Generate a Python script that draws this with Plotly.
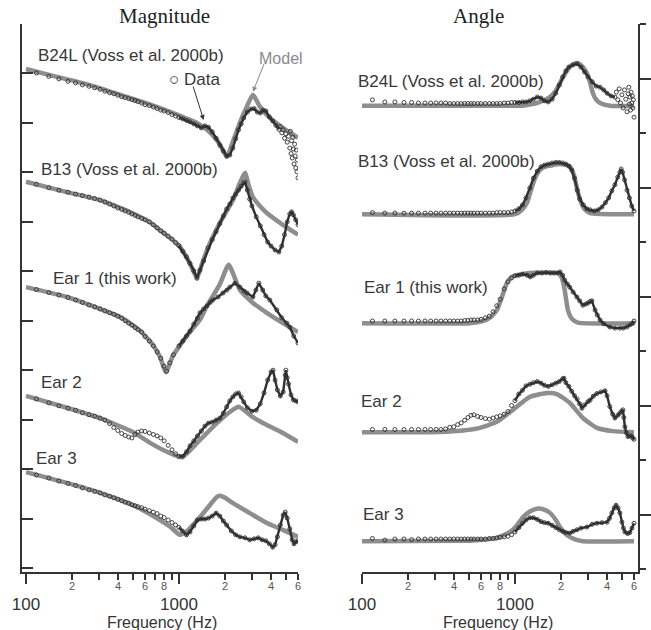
import math
import plotly.graph_objects as go

# ---------------- shared frequency grid of the sparse low-frequency data circles (Hz)
LOW_F = [117, 141, 164, 188, 211, 234, 258, 281, 305, 328, 352, 375, 398, 422, 445, 469, 492, 516, 539]

# ================= MAGNITUDE panel (arbitrary dB-like units, 10 per tick, curves offset) =========
# --- B24L
b24l_mag_model_f = [100, 150, 200, 300, 450, 650, 900, 1100, 1311, 1524, 1770, 1900, 2058, 2250, 2500, 2750, 3045, 3381, 3933, 4783, 6000]
b24l_mag_model_v = [100.9, 99.5, 98.6, 97.1, 95.3, 93.7, 92.1, 91.0, 90.0, 88.6, 86.5, 85.0, 83.1, 86.2, 90.0, 93.0, 95.7, 93.3, 91.0, 89.0, 87.0]
b24l_mag_low_v = [100.1, 99.4, 98.9, 98.4, 98.1, 97.7, 97.4, 97.1, 96.8, 96.4, 96.1, 95.9, 95.6, 95.3, 95.1, 94.9, 94.7, 94.5, 94.3]
b24l_mag_hi_f = [570, 600, 640, 680, 720, 760, 800, 850, 900, 950, 1000, 1060, 1120, 1180, 1250, 1320, 1400, 1480, 1560, 1650, 1750, 1850, 1950, 2050, 2150, 2250, 2350, 2450, 2550, 2650, 2800, 2950, 3100, 3250, 3400, 3550, 3700, 3900, 4100, 4300, 4500]
b24l_mag_hi_v = [94.0, 93.7, 93.5, 93.2, 92.9, 92.6, 92.4, 92.1, 91.7, 91.4, 91.1, 90.8, 90.5, 90.2, 89.8, 89.4, 89.0, 89.4, 89.1, 88.2, 86.9, 85.5, 84.3, 83.3, 83.5, 84.9, 86.8, 88.6, 89.8, 91.0, 92.2, 92.8, 92.9, 92.2, 92.0, 92.6, 92.4, 91.2, 90.4, 89.5, 88.7]
b24l_mag_scat_f = [4600, 4700, 4800, 4900, 5000, 5100, 5200, 5300, 5350, 5400, 5450, 5500, 5550, 5600, 5650, 5700, 5750, 5800, 5850, 5900, 5950, 6000]
b24l_mag_scat_v = [89.2, 88.0, 88.6, 86.9, 87.8, 86.1, 87.3, 84.9, 88.3, 83.8, 86.4, 82.9, 87.1, 84.7, 81.7, 85.7, 83.3, 80.9, 84.5, 80.1, 82.5, 78.9]

# --- B13
b13_mag_model_f = [100, 185, 305, 478, 647, 751, 912, 1015, 1127, 1216, 1311, 1415, 1524, 1853, 2255, 2505, 2701, 2865, 3045, 3381, 3754, 4783, 6000]
b13_mag_model_v = [78.1, 76.0, 74.4, 72.0, 69.9, 68.3, 66.3, 64.9, 62.7, 60.7, 58.6, 61.5, 64.3, 69.8, 74.4, 77.9, 79.9, 77.2, 75.0, 73.2, 71.8, 69.4, 67.4]
b13_mag_low_v = [77.6, 76.9, 76.4, 76.0, 75.6, 75.3, 75.0, 74.7, 74.4, 74.0, 73.6, 73.2, 72.8, 72.5, 72.2, 71.9, 71.6, 71.3, 71.0]
b13_mag_hi_f = [570, 600, 640, 680, 720, 760, 800, 850, 900, 950, 1000, 1060, 1120, 1180, 1250, 1311, 1370, 1450, 1550, 1650, 1750, 1850, 1950, 2050, 2150, 2250, 2350, 2450, 2550, 2650, 2700, 2800, 2900, 3000, 3200, 3400, 3600, 3800, 4000, 4250, 4500, 4700, 4900, 5100, 5300, 5450, 5600, 5800, 6000]
b13_mag_hi_v = [70.7, 70.4, 70.0, 69.4, 68.8, 68.2, 67.7, 67.1, 66.5, 65.8, 65.2, 64.0, 62.9, 61.6, 60.1, 58.6, 60.2, 62.1, 64.7, 66.4, 68.0, 69.6, 71.2, 72.6, 73.6, 74.8, 75.6, 76.4, 77.2, 77.9, 78.1, 76.4, 74.6, 73.2, 71.0, 69.2, 67.4, 65.9, 65.1, 64.3, 63.9, 65.1, 67.4, 70.0, 71.6, 72.0, 71.4, 70.4, 69.4]

# --- Ear 1
ear1_mag_model_f = [100, 185, 305, 411, 556, 677, 751, 822, 912, 1015, 1127, 1372, 1524, 1853, 2113, 2505, 3045, 3754, 4783, 6000]
ear1_mag_model_v = [56.8, 54.8, 52.4, 50.8, 48.0, 45.1, 42.7, 39.6, 42.9, 45.0, 47.0, 50.2, 53.0, 57.4, 61.3, 56.2, 53.6, 51.6, 49.5, 47.7]
ear1_mag_low_v = [56.3, 55.7, 55.2, 54.7, 54.2, 53.7, 53.2, 52.8, 52.4, 52.0, 51.6, 51.3, 50.9, 50.5, 50.0, 49.5, 49.1, 48.6, 48.2]
ear1_mag_hi_f = [570, 600, 640, 680, 720, 760, 800, 830, 870, 920, 1000, 1060, 1120, 1180, 1250, 1320, 1372, 1450, 1524, 1600, 1666, 1800, 1940, 2058, 2152, 2324, 2505, 2665, 2787, 3045, 3182, 3327, 3530, 3698, 3927, 4360, 4697, 5070, 5305, 5630, 6000]
ear1_mag_hi_v = [47.7, 46.8, 45.9, 44.9, 43.7, 42.4, 40.8, 39.8, 41.5, 43.1, 44.9, 45.9, 46.9, 47.9, 49.3, 50.5, 51.6, 52.4, 53.0, 53.7, 54.2, 54.8, 55.6, 56.2, 56.8, 57.6, 56.8, 56.0, 55.6, 54.8, 56.2, 57.6, 56.2, 55.0, 54.2, 52.2, 50.6, 49.5, 48.7, 46.9, 45.5]

# --- Ear 2
ear2_mag_model_f = [100, 185, 305, 500, 647, 835, 1048, 1372, 1770, 2255, 2457, 3045, 3754, 4783, 6000]
ear2_mag_model_v = [34.8, 32.4, 30.3, 27.5, 25.3, 23.5, 22.4, 25.9, 29.3, 32.0, 32.6, 30.5, 28.9, 27.3, 25.5]
ear2_mag_low_v = [34.2, 33.4, 32.8, 32.3, 31.9, 31.4, 31.0, 30.7, 30.3, 29.9, 29.2, 28.4, 27.8, 27.2, 26.8, 26.5, 26.3, 27.0, 27.5]
ear2_mag_hi_f = [570, 600, 640, 680, 720, 760, 800, 850, 900, 950, 1000, 1060, 1120, 1180, 1250, 1320, 1400, 1480, 1560, 1650, 1750, 1850, 1950, 2050, 2150, 2250, 2350, 2450, 2550, 2650, 2800, 3000, 3200, 3400, 3600, 3800, 4000, 4120, 4250, 4400, 4600, 4800, 4950, 5000, 5100, 5200, 5400, 5600, 5800, 6000]
ear2_mag_hi_v = [27.7, 27.6, 27.3, 27.0, 26.7, 26.3, 25.7, 24.8, 23.9, 23.1, 22.6, 22.6, 23.5, 24.7, 25.7, 26.7, 27.7, 28.7, 29.3, 29.5, 29.9, 30.3, 31.3, 32.6, 33.8, 34.6, 35.2, 35.4, 34.6, 33.6, 32.4, 31.7, 31.9, 33.2, 35.4, 38.0, 39.6, 40.0, 38.0, 36.0, 34.8, 35.6, 39.0, 40.0, 38.5, 37.2, 35.0, 34.0, 33.8, 33.6]

# --- Ear 3
ear3_mag_model_f = [100, 185, 305, 500, 751, 880, 1015, 1150, 1372, 1600, 1770, 1853, 2000, 2255, 2907, 3754, 4783, 6000]
ear3_mag_model_v = [19.4, 17.2, 15.2, 12.7, 9.7, 8.3, 6.7, 7.7, 10.3, 12.8, 14.4, 14.6, 14.2, 13.1, 11.1, 9.1, 7.7, 6.3]
ear3_mag_low_v = [18.8, 18.2, 17.6, 17.1, 16.7, 16.2, 15.8, 15.5, 15.2, 14.8, 14.5, 14.2, 13.9, 13.6, 13.3, 13.1, 12.8, 12.6, 12.4]
ear3_mag_hi_f = [570, 600, 640, 680, 720, 760, 800, 850, 900, 950, 1000, 1050, 1120, 1180, 1250, 1320, 1400, 1480, 1560, 1650, 1750, 1850, 1950, 2050, 2200, 2350, 2500, 2700, 2900, 3100, 3300, 3500, 3700, 3900, 4100, 4250, 4400, 4600, 4800, 4950, 5100, 5300, 5500, 5650, 5800, 6000]
ear3_mag_hi_v = [12.2, 11.9, 11.6, 11.3, 11.0, 10.5, 10.2, 9.7, 9.2, 8.7, 8.2, 7.5, 6.7, 7.3, 8.5, 9.7, 9.9, 9.9, 10.1, 10.5, 11.1, 10.5, 9.5, 8.7, 7.5, 6.7, 6.3, 6.1, 5.7, 5.9, 6.1, 5.7, 5.5, 4.9, 4.2, 4.7, 6.3, 8.7, 10.7, 11.3, 10.1, 7.9, 5.7, 4.9, 5.3, 5.5]

# ================= ANGLE panel (arbitrary degree-like units, 10 per tick, curves offset) =========
b24l_ang_model_f = [100, 1000, 1127, 1250, 1392, 1550, 1693, 1850, 1968, 2120, 2279, 2430, 2581, 2760, 2951, 3100, 3233, 3400, 3603, 4170, 6000]
b24l_ang_model_v = [85.0, 85.0, 85.0, 85.2, 85.5, 86.0, 86.6, 87.8, 89.2, 90.8, 92.1, 92.7, 92.8, 92.2, 91.0, 89.2, 87.3, 86.1, 85.5, 85.0, 85.0]
b24l_ang_low_v = [86.1, 85.7, 85.7, 85.6, 85.6, 85.5, 85.5, 85.5, 85.5, 85.5, 85.5, 85.4, 85.4, 85.4, 85.4, 85.4, 85.4, 85.4, 85.4]
b24l_ang_hi_f = [570, 600, 640, 680, 720, 760, 800, 850, 900, 950, 1000, 1060, 1120, 1180, 1250, 1320, 1400, 1480, 1560, 1650, 1750, 1850, 1950, 2050, 2150, 2250, 2400, 2550, 2700, 2850, 3000, 3200, 3400, 3600, 3800, 4000, 4250, 4500]
b24l_ang_hi_v = [85.4, 85.4, 85.4, 85.4, 85.4, 85.4, 85.4, 85.5, 85.5, 85.6, 85.6, 85.6, 85.7, 85.7, 85.9, 86.2, 86.6, 86.4, 85.9, 85.7, 86.2, 87.3, 88.8, 90.3, 91.4, 92.1, 92.5, 92.7, 92.1, 91.2, 90.3, 89.4, 88.6, 88.4, 87.9, 87.3, 86.8, 86.6]
b24l_ang_scat_f = [4600, 4700, 4800, 4900, 5000, 5100, 5200, 5300, 5400, 5500, 5550, 5600, 5650, 5700, 5750, 5800, 5850, 5900, 5950, 6000]
b24l_ang_scat_v = [87.5, 86.1, 88.1, 85.5, 87.0, 84.6, 87.9, 86.2, 83.9, 87.2, 88.4, 85.3, 86.6, 84.2, 87.5, 85.5, 86.8, 84.6, 86.1, 82.9]

b13_ang_model_f = [100, 1000, 1111, 1198, 1271, 1352, 1452, 1618, 1968, 2279, 2430, 2540, 2665, 2842, 3098, 6000]
b13_ang_model_v = [65.1, 65.1, 65.9, 67.2, 69.5, 71.7, 73.2, 73.9, 74.3, 73.9, 72.3, 69.9, 67.7, 66.1, 65.3, 65.1]
b13_ang_low_v = [65.4, 65.3, 65.3, 65.3, 65.3, 65.3, 65.3, 65.3, 65.3, 65.3, 65.3, 65.3, 65.3, 65.3, 65.3, 65.3, 65.3, 65.3, 65.3]
b13_ang_hi_f = [570, 600, 640, 680, 720, 760, 800, 850, 900, 950, 1000, 1060, 1120, 1180, 1250, 1320, 1400, 1480, 1560, 1650, 1750, 1850, 1950, 2050, 2150, 2250, 2350, 2450, 2550, 2650, 2800, 2950, 3100, 3300, 3500, 3700, 3900, 4100, 4300, 4500, 4700, 4850, 4950, 5050, 5200, 5400, 5600, 5800, 6000]
b13_ang_hi_v = [65.3, 65.3, 65.3, 65.3, 65.3, 65.4, 65.4, 65.4, 65.4, 65.5, 65.7, 66.1, 66.8, 68.1, 69.9, 71.7, 73.0, 73.8, 74.1, 74.3, 74.5, 74.6, 74.6, 74.5, 74.3, 73.9, 73.2, 71.7, 69.5, 67.9, 66.8, 66.1, 65.9, 65.7, 65.9, 66.4, 67.2, 68.1, 69.4, 70.5, 71.9, 72.8, 73.4, 72.8, 71.4, 69.5, 68.1, 66.6, 65.7]

ear1_ang_model_f = [100, 508, 616, 686, 762, 822, 886, 955, 1111, 1452, 1916, 2027, 2113, 2220, 2356, 2581, 6000]
ear1_ang_model_v = [45.1, 45.1, 45.5, 46.1, 47.5, 49.9, 52.5, 53.6, 54.1, 54.4, 54.3, 53.4, 51.2, 47.5, 45.9, 45.2, 45.1]
ear1_ang_low_v = [45.5, 45.5, 45.5, 45.5, 45.5, 45.5, 45.5, 45.5, 45.5, 45.5, 45.5, 45.5, 45.5, 45.5, 45.5, 45.6, 45.6, 45.7, 45.7]
ear1_ang_hi_f = [570, 600, 640, 680, 720, 760, 800, 850, 900, 950, 1000, 1060, 1120, 1200, 1260, 1320, 1400, 1500, 1600, 1700, 1800, 1900, 1970, 2050, 2113, 2200, 2279, 2400, 2540, 2650, 2780, 2900, 3000, 3100, 3182, 3340, 3450, 3603, 3800, 4170, 4500, 4850, 5100, 5384, 5650, 5900, 6000]
ear1_ang_hi_v = [45.7, 45.8, 46.1, 46.4, 47.2, 48.3, 49.5, 51.4, 52.7, 53.4, 53.8, 53.9, 54.1, 53.9, 53.6, 53.9, 54.3, 54.3, 54.4, 54.3, 54.3, 54.3, 54.5, 53.9, 53.0, 52.3, 51.7, 50.8, 49.9, 49.2, 48.4, 48.6, 48.8, 49.1, 49.2, 47.5, 46.6, 45.7, 45.0, 44.4, 44.2, 44.2, 44.2, 44.4, 44.8, 45.1, 45.5]

ear2_ang_model_f = [100, 278, 360, 458, 590, 762, 970, 1254, 1618, 1880, 2279, 2780, 3430, 4361, 6000]
ear2_ang_model_v = [25.1, 25.1, 25.2, 25.4, 25.9, 27.0, 29.2, 31.6, 32.3, 32.1, 30.5, 27.7, 25.9, 25.3, 25.1]
ear2_ang_low_v = [25.6, 25.6, 25.6, 25.6, 25.6, 25.6, 25.6, 25.6, 25.6, 25.6, 25.7, 26.0, 26.1, 26.5, 26.8, 27.3, 27.8, 28.2, 28.3]
ear2_ang_hi_f = [570, 600, 640, 680, 720, 760, 800, 850, 900, 950, 1000, 1060, 1120, 1180, 1250, 1320, 1400, 1480, 1560, 1650, 1750, 1850, 1950, 2050, 2090, 2150, 2250, 2350, 2450, 2550, 2650, 2740, 2850, 3000, 3100, 3250, 3430, 3650, 3880, 4000, 4170, 4350, 4500, 4700, 4850, 5000, 5080, 5150, 5230, 5350, 5480, 5650, 5800, 5900, 6000]
ear2_ang_hi_v = [28.0, 27.8, 27.6, 27.5, 27.7, 27.9, 28.1, 28.4, 28.9, 30.0, 30.9, 32.1, 32.8, 33.6, 33.9, 34.2, 34.4, 34.1, 33.7, 33.5, 33.8, 34.1, 34.4, 34.9, 35.0, 34.2, 33.5, 32.6, 31.8, 31.2, 30.3, 29.5, 30.1, 30.7, 31.0, 31.7, 32.2, 32.5, 32.7, 31.8, 29.8, 28.4, 27.7, 28.2, 28.6, 29.0, 29.2, 27.8, 26.1, 25.0, 24.3, 24.4, 24.4, 24.0, 23.8]

ear3_ang_model_f = [100, 500, 590, 762, 928, 1030, 1127, 1260, 1415, 1550, 1693, 1850, 1968, 2120, 2279, 2500, 2780, 6000]
ear3_ang_model_v = [5.1, 5.2, 5.3, 5.7, 6.8, 8.0, 9.5, 10.6, 11.1, 10.9, 10.3, 9.0, 7.7, 6.6, 5.9, 5.4, 5.1, 5.1]
ear3_ang_low_v = [5.6, 5.3, 5.5, 5.5, 5.4, 5.5, 5.5, 5.5, 5.5, 5.5, 5.5, 5.5, 5.5, 5.5, 5.5, 5.5, 5.5, 5.5, 5.5]
ear3_ang_hi_f = [570, 600, 640, 680, 720, 760, 800, 850, 900, 950, 1000, 1060, 1120, 1180, 1250, 1320, 1400, 1480, 1560, 1650, 1750, 1850, 1950, 2050, 2150, 2280, 2400, 2540, 2700, 2951, 3200, 3430, 3700, 4000, 4150, 4300, 4450, 4580, 4720, 4850, 5000, 5120, 5230, 5450, 5640, 5820, 6000]
ear3_ang_hi_v = [5.5, 5.5, 5.5, 5.6, 5.6, 5.7, 5.8, 5.9, 6.0, 6.3, 6.8, 7.6, 8.4, 9.0, 9.4, 9.4, 9.1, 8.7, 8.5, 8.4, 8.0, 7.6, 7.2, 6.9, 6.7, 6.6, 6.9, 7.2, 7.5, 7.7, 8.2, 8.4, 8.5, 8.6, 9.3, 10.3, 11.2, 11.7, 11.2, 10.3, 8.6, 7.5, 6.8, 6.5, 6.7, 7.5, 8.4]

# ---------------- labels / ticks
MAG_TICKS = list(range(0, 111, 10))
ANG_MAJOR = [10, 30, 50, 70, 90]
ANG_MINOR = [0, 20, 40, 60, 80, 100]
X_MAJOR = [100, 1000]
X_MAJOR_TEXT = ["100", "1000"]
X_MINOR = [200, 300, 400, 500, 600, 700, 800, 900, 2000, 3000, 4000, 5000, 6000]
X_MINOR_LABEL_VALS = [200, 400, 600, 800, 2000, 4000, 6000]
X_MINOR_LABEL_TEXT = ["2", "4", "6", "8", "2", "4", "6"]

W, H = 651, 630
MODEL_COLOR = "#8e8e8e"
DATA_COLOR = "#303030"
TEXT_COLOR = "#383838"
SANS = "Liberation Sans, Arial, sans-serif"
SERIF = "Liberation Serif, Times New Roman, serif"
LINE_FROM = 1000

fig = go.Figure()


def add_model(f, v, xa, ya):
    fig.add_trace(go.Scatter(x=f, y=v, mode="lines", xaxis=xa, yaxis=ya,
                             line=dict(color=MODEL_COLOR, width=4.5, shape="spline", smoothing=0.5),
                             hoverinfo="skip"))


def add_data(low_v, hi_f, hi_v, xa, ya, scat_f=None, scat_v=None):
    f_all = LOW_F + hi_f
    v_all = low_v + hi_v
    lf = [f for f in hi_f if f >= LINE_FROM]
    lv = [v for f, v in zip(hi_f, hi_v) if f >= LINE_FROM]
    fig.add_trace(go.Scatter(x=lf, y=lv, mode="lines", xaxis=xa, yaxis=ya,
                             line=dict(color=DATA_COLOR, width=2.4), hoverinfo="skip"))
    if scat_f:
        f_all = f_all + scat_f
        v_all = v_all + scat_v
    fig.add_trace(go.Scatter(x=f_all, y=v_all, mode="markers", xaxis=xa, yaxis=ya,
                             marker=dict(symbol="circle-open", size=4, color=DATA_COLOR,
                                         line=dict(width=0.9, color=DATA_COLOR)),
                             hoverinfo="skip"))


# magnitude
add_model(b24l_mag_model_f, b24l_mag_model_v, "x", "y")
add_model(b13_mag_model_f, b13_mag_model_v, "x", "y")
add_model(ear1_mag_model_f, ear1_mag_model_v, "x", "y")
add_model(ear2_mag_model_f, ear2_mag_model_v, "x", "y")
add_model(ear3_mag_model_f, ear3_mag_model_v, "x", "y")
add_data(b24l_mag_low_v, b24l_mag_hi_f, b24l_mag_hi_v, "x", "y", b24l_mag_scat_f, b24l_mag_scat_v)
add_data(b13_mag_low_v, b13_mag_hi_f, b13_mag_hi_v, "x", "y")
add_data(ear1_mag_low_v, ear1_mag_hi_f, ear1_mag_hi_v, "x", "y")
add_data(ear2_mag_low_v, ear2_mag_hi_f, ear2_mag_hi_v, "x", "y")
add_data(ear3_mag_low_v, ear3_mag_hi_f, ear3_mag_hi_v, "x", "y")

# angle
add_model(b24l_ang_model_f, b24l_ang_model_v, "x2", "y2")
add_model(b13_ang_model_f, b13_ang_model_v, "x2", "y2")
add_model(ear1_ang_model_f, ear1_ang_model_v, "x2", "y2")
add_model(ear2_ang_model_f, ear2_ang_model_v, "x2", "y2")
add_model(ear3_ang_model_f, ear3_ang_model_v, "x2", "y2")
add_data(b24l_ang_low_v, b24l_ang_hi_f, b24l_ang_hi_v, "x2", "y2", b24l_ang_scat_f, b24l_ang_scat_v)
add_data(b13_ang_low_v, b13_ang_hi_f, b13_ang_hi_v, "x2", "y2")
add_data(ear1_ang_low_v, ear1_ang_hi_f, ear1_ang_hi_v, "x2", "y2")
add_data(ear2_ang_low_v, ear2_ang_hi_f, ear2_ang_hi_v, "x2", "y2")
add_data(ear3_ang_low_v, ear3_ang_hi_f, ear3_ang_hi_v, "x2", "y2")

# empty traces so the minor-label overlay axes exist
fig.add_trace(go.Scatter(x=[], y=[], xaxis="x3", yaxis="y", hoverinfo="skip"))
fig.add_trace(go.Scatter(x=[], y=[], xaxis="x4", yaxis="y2", hoverinfo="skip"))

LOG6000 = math.log10(6000)
PX_DEC = 153.0  # pixels per decade


def px(x):
    return x / W


def py(y):
    return 1 - y / H


Y_DOMAIN = [py(572), py(24)]

x_common = dict(type="log", showgrid=False, zeroline=False, showline=True, linecolor="#333",
                linewidth=1.5, ticks="outside", ticklen=10, tickwidth=1.5, tickcolor="#333",
                tickmode="array", tickvals=X_MAJOR, ticktext=X_MAJOR_TEXT, automargin=False,
                tickfont=dict(family=SANS, size=17, color="#333"), ticklabelstandoff=6,
                minor=dict(ticks="outside", ticklen=6, tickwidth=1.5, tickcolor="#333",
                           tickmode="array", tickvals=X_MINOR, showgrid=False))
x_minor_lab = dict(type="log", showgrid=False, zeroline=False, showline=False, ticks="",
                   tickmode="array", tickvals=X_MINOR_LABEL_VALS, ticktext=X_MINOR_LABEL_TEXT,
                   automargin=False,
                   tickfont=dict(family=SANS, size=11, color="#555"), ticklabelstandoff=6)

fig.update_layout(
    width=W, height=H, margin=dict(l=0, r=0, t=0, b=0, pad=0, autoexpand=False),
    paper_bgcolor="white", plot_bgcolor="white", showlegend=False,
    xaxis=dict(domain=[px(22), px(298)], range=[2 - 4 / PX_DEC, LOG6000], anchor="y", **x_common),
    xaxis2=dict(domain=[px(362), px(638)], range=[2, LOG6000 + 4 / PX_DEC], anchor="y2", **x_common),
    xaxis3=dict(overlaying="x", anchor="y", side="bottom", range=[2 - 4 / PX_DEC, LOG6000], **x_minor_lab),
    xaxis4=dict(overlaying="x2", anchor="y2", side="bottom", range=[2, LOG6000 + 4 / PX_DEC], **x_minor_lab),
    yaxis=dict(domain=Y_DOMAIN, range=[-4 / 4.945, 110], anchor="x", showgrid=False, zeroline=False,
               showline=True, linecolor="#333", linewidth=1.5, ticks="inside", ticklen=11,
               tickwidth=1.5, tickcolor="#333", tickmode="array", tickvals=MAG_TICKS,
               showticklabels=False, automargin=False),
    yaxis2=dict(domain=Y_DOMAIN, range=[-3 / 5.45, 100], anchor="x2", side="right", showgrid=False,
                zeroline=False, showline=True, linecolor="#333", linewidth=1.5, ticks="outside",
                ticklen=11, tickwidth=1.5, tickcolor="#333", tickmode="array", tickvals=ANG_MAJOR,
                showticklabels=False, automargin=False,
                minor=dict(ticks="outside", ticklen=6, tickwidth=1.5, tickcolor="#333",
                           tickmode="array", tickvals=ANG_MINOR, showgrid=False)),
)

ann = []


def label(text, x, y, size=17, color=TEXT_COLOR, family=SANS, anchor="left"):
    ann.append(dict(text=text, x=px(x), y=py(y), xref="paper", yref="paper", showarrow=False,
                    xanchor=anchor, yanchor="middle", font=dict(family=family, size=size, color=color)))


label("Magnitude", 164, 16, size=21, color="#222", family=SERIF, anchor="center")
label("Angle", 478, 16, size=21, color="#222", family=SERIF, anchor="center")
label("B24L (Voss et al. 2000b)", 36, 55)
label("B13 (Voss et al. 2000b)", 39, 170)
label("Ear 1 (this work)", 51, 278)
label("Ear 2", 39, 382)
label("Ear 3", 34, 458)
label("B24L (Voss et al. 2000b)", 356, 82)
label("B13 (Voss et al. 2000b)", 356, 161)
label("Ear 1 (this work)", 362, 288)
label("Ear 2", 359, 402)
label("Ear 3", 361, 514)
label("○ Data", 167, 79)
label("Model", 257, 58, size=16, color="#8a8a8a")
label("Frequency (Hz)", 162, 622, size=16, color="#333", anchor="center")
label("Frequency (Hz)", 498, 622, size=16, color="#333", anchor="center")

# arrows pointing at the data bump and the model peak
ann.append(dict(x=math.log10(1450), y=90.6, xref="x", yref="y", text="", showarrow=True,
                ax=-11, ay=-35, arrowhead=2, arrowsize=1, arrowwidth=1, arrowcolor="#333"))
ann.append(dict(x=math.log10(3045), y=96.3, xref="x", yref="y", text="", showarrow=True,
                ax=12, ay=-30, arrowhead=2, arrowsize=1, arrowwidth=1, arrowcolor="#8a8a8a"))

fig.update_layout(annotations=ann)
fig.write_html(
    "out.html",
    config={"displayModeBar": False, "responsive": False},
    post_script="document.body.style.margin='0';document.body.style.padding='0';"
                "document.documentElement.style.overflow='hidden';document.body.style.overflow='hidden';",
)
